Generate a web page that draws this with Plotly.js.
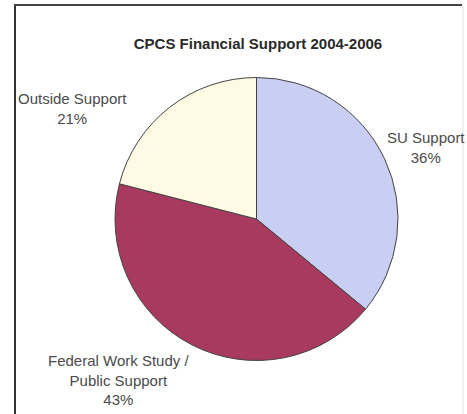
<!DOCTYPE html>
<html>
<head>
<meta charset="utf-8">
<script src="https://cdn.plot.ly/plotly-3.0.1.min.js"></script>
<style>html,body{margin:0;padding:0;background:#fff;}#chart{width:467px;height:414px;}</style>
</head>
<body>
<div id="chart"></div>
<script>
var categories = ["SU Support", "Federal Work Study /<br>Public Support", "Outside Support"];
var values = [36, 43, 21];
var sliceColors = ["#c8cff2", "#a8395f", "#fffae3"];
var labelPos = [[426, 147], [119, 380], [72, 108]];

var W = 467, H = 414;
var annotations = categories.map(function (c, i) {
  return {
    xref: "paper", yref: "paper",
    x: labelPos[i][0] / W, y: 1 - labelPos[i][1] / H,
    xanchor: "center", yanchor: "middle",
    text: c + "<br>" + values[i] + "%",
    showarrow: false,
    font: {family: "Liberation Sans, Arial, sans-serif", size: 15, color: "#4a4a4a"},
    align: "center"
  };
});

var data = [{
  type: "pie",
  labels: categories,
  values: values,
  sort: false,
  direction: "clockwise",
  rotation: 0,
  marker: {colors: sliceColors, line: {color: "#444", width: 1}},
  textinfo: "none",
  hoverinfo: "label+percent",
  showlegend: false,
  domain: {x: [115 / W, 398 / W], y: [1 - 362 / H, 1 - 76 / H]}
}];

var layout = {
  width: W, height: H,
  margin: {l: 0, r: 0, t: 0, b: 0},
  paper_bgcolor: "#fff",
  title: {
    text: "<b>CPCS Financial Support 2004-2006</b>",
    x: 258 / W, xanchor: "center",
    y: 1 - 44 / H, yanchor: "middle",
    font: {family: "Liberation Sans, Arial, sans-serif", size: 15, color: "#2a2a2a"}
  },
  annotations: annotations,
  shapes: [
    {type: "line", xref: "paper", yref: "paper", x0: 15 / W, x1: 15 / W, y0: 0, y1: 1 - 5 / H, line: {color: "#333", width: 2}},
    {type: "line", xref: "paper", yref: "paper", x0: 14 / W, x1: 462 / W, y0: 1 - 5 / H, y1: 1 - 5 / H, line: {color: "#444", width: 2}},
    {type: "line", xref: "paper", yref: "paper", x0: 463 / W, x1: 463 / W, y0: 0, y1: 1 - 5 / H, line: {color: "#e4e4e4", width: 1}}
  ]
};

Plotly.newPlot("chart", data, layout, {displayModeBar: false, staticPlot: true});
</script>
</body>
</html>
